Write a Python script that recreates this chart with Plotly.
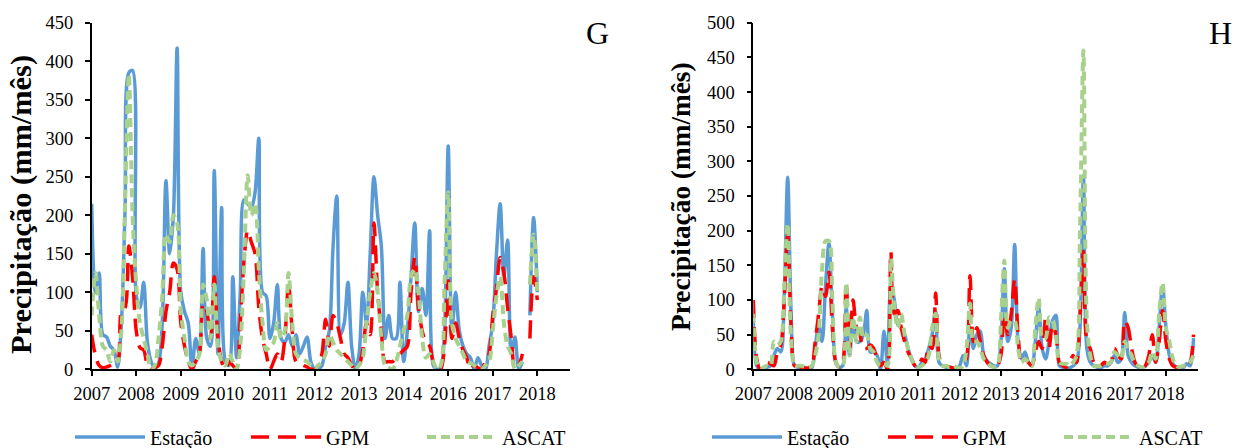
import plotly.graph_objects as go

# ---------------- data (monthly, category index along x) ----------------
tick_labels = ["2007", "2008", "2009", "2010", "2011", "2012", "2013", "2014", "2016", "2017", "2018"]
series_names = ["Estação", "GPM", "ASCAT"]

G_estacao = [215, 100, 125, 45, 42, 30, 25, 3, 60, 210,
             385, 388, 95, 80, 113, 35, 10, 2, 8, 60,
             245, 150, 200, 417, 100, 75, 60, 0, 40, 20,
             157, 40, 30, 258, 20, 210, 10, 5, 120, 15,
             100, 220, 215, 210, 230, 300, 100, 95, 40, 60,
             110, 40, 35, 45, 30, 45, 20, 30, 42, 10,
             0, 0, 5, 30, 50, 160, 225, 45, 60, 113,
             30, 0, 20, 100, 60, 150, 250, 200, 160, 40,
             70, 40, 40, 113, 10, 50, 120, 190, 75, 105,
             70, 180, 5, 0, 2, 50, 290, 50, 100, 50,
             30, 20, 15, 0, 15, 5, 0, 30, 60, 150,
             215, 120, 168, 20, 42, 0, 10, None, 70, 197,
             100]
G_gpm = [45, 18, 5, 2, 3, 5, 8, 10, 75, 80,
         160, 120, 50, 28, 25, 5, 0, 2, 5, 30,
         75, 100, 138, 130, 60, 30, 10, 0, 10, 20,
         85, 75, 40, 120, 40, 10, 0, 10, 5, 0,
         60, 140, 180, 165, 150, 80, 40, 20, 0, 10,
         20, 10, 40, 110, 50, 10, 8, 5, 3, 0,
         0, 5, 20, 65, 30, 70, 60, 40, 20, 15,
         5, 0, 5, 25, 60, 45, 190, 100, 50, 10,
         10, 10, 15, 20, 25, 30, 100, 145, 80, 50,
         35, 30, 10, 5, 0, 30, 115, 40, 60, 40,
         25, 15, 0, 5, 2, 0, 10, 20, 70, 105,
         145, 125, 80, 40, 0, 5, 20, None, 40, 120,
         90]
G_ascat = [70, 125, 70, 30, 25, 10, 25, 10, 50, 220,
           383, 200, 110, 60, 40, 20, 0, 5, 40, 95,
           175, 165, 200, 190, 75, 40, 10, 5, 10, 20,
           110, 90, 40, 110, 30, 10, 5, 20, 10, 0,
           30, 130, 252, 200, 215, 130, 60, 25, 30, 35,
           60, 40, 50, 125, 60, 20, 15, 12, 10, 5,
           0, 5, 10, 20, 45, 35, 25, 20, 15, 10,
           5, 0, 5, 15, 60, 100, 125, 100, 40, 5,
           2, 0, 10, 30, 50, 70, 120, 130, 100, 40,
           15, 20, 10, 0, 5, 110, 230, 60, 40, 30,
           20, 10, 8, 5, 2, 0, 5, 10, 50, 95,
           120, 60, 30, 20, 0, 5, 10, None, 110, 175,
           100]

H_estacao = [70, 5, 0, 2, 3, 5, 20, 30, 25, 110,
             277, 80, 5, 3, 2, 2, 0, 2, 30, 65,
             40, 120, 182, 80, 10, 3, 5, 90, 20, 70,
             40, 40, 50, 85, 25, 25, 20, 0, 55, 10,
             120, 100, 65, 60, 50, 30, 15, 5, 3, 10,
             15, 30, 50, 85, 10, 5, 3, 3, 2, 0,
             5, 20, 5, 60, 30, 50, 55, 20, 12, 8,
             5, 5, 40, 145, 40, 60, 180, 40, 15, 25,
             10, 5, 40, 90, 30, 15, 40, 70, 78, 5,
             3, 2, 2, 5, 10, 60, 280, 30, 10, 5,
             3, 2, 5, 5, 10, 20, 10, 15, 82, 20,
             10, 5, 3, 2, 5, 10, 20, 10, 60, 120,
             60, 20, 8, 3, 2, 2, 8, 5, 45]
H_gpm = [100, 15, 0, 5, 10, 8, 5, 25, 35, 100,
         195, 60, 5, 5, 3, 2, 2, 5, 40, 80,
         120, 105, 140, 60, 10, 3, 10, 125, 30, 100,
         60, 50, 30, 30, 35, 30, 15, 5, 10, 0,
         170, 80, 85, 60, 40, 25, 15, 5, 3, 15,
         10, 35, 30, 110, 20, 5, 5, 3, 2, 0,
         2, 5, 15, 135, 40, 60, 40, 20, 10, 5,
         3, 5, 20, 80, 50, 80, 130, 50, 10, 15,
         10, 5, 25, 40, 30, 75, 30, 65, 50, 10,
         5, 3, 10, 20, 10, 80, 170, 40, 30, 10,
         5, 5, 10, 8, 10, 30, 20, 15, 70, 60,
         30, 10, 3, 0, 5, 20, 50, 10, 40, 85,
         40, 15, 5, 3, 2, 3, 5, 10, 50]
H_ascat = [80, 10, 0, 3, 5, 5, 40, 35, 40, 120,
           210, 40, 5, 5, 5, 3, 3, 5, 20, 50,
           145, 185, 185, 100, 10, 3, 5, 125, 20, 75,
           40, 75, 45, 50, 30, 25, 10, 5, 8, 5,
           160, 90, 60, 80, 50, 30, 15, 5, 3, 5,
           10, 20, 60, 80, 15, 5, 5, 3, 5, 3,
           2, 5, 30, 95, 40, 40, 30, 15, 10, 5,
           3, 5, 70, 157, 60, 70, 70, 30, 10, 15,
           10, 5, 60, 103, 45, 45, 75, 70, 50, 10,
           8, 8, 5, 10, 20, 200, 460, 70, 20, 5,
           5, 5, 8, 8, 10, 25, 20, 15, 40, 30,
           20, 8, 5, 3, 5, 10, 25, 15, 80, 125,
           60, 40, 15, 5, 3, 5, 5, 10, 20]

# ---------------- styling ----------------
W, H = 1240, 448
FONT = "Liberation Serif"
styles = [
    dict(color="#5B9BD5", width=3.5, dash="solid"),
    dict(color="#FF0000", width=3.5, dash="18px,9px"),
    dict(color="#A9D18E", width=4, dash="9px,5px"),
]

def px_x(p):
    return p / W

def px_y(p):
    return 1 - p / H

fig = go.Figure()

panels = [
    ("x", "y", "legend", [G_estacao, G_gpm, G_ascat]),
    ("x2", "y2", "legend2", [H_estacao, H_gpm, H_ascat]),
]
for xa, ya, lg, data in panels:
    for name, ys, st in zip(series_names, data, styles):
        fig.add_trace(go.Scatter(
            x=list(range(len(ys))), y=ys, mode="lines", name=name,
            line=dict(color=st["color"], width=st["width"], dash=st["dash"], shape="spline", smoothing=0.9),
            xaxis=xa, yaxis=ya, legend=lg, connectgaps=False, hoverinfo="skip",
        ))

tickvals = [12 * k for k in range(len(tick_labels))]

def xaxis_cfg(left, right, rng, anchor):
    return dict(domain=[px_x(left), px_x(right)], range=[0, rng], anchor=anchor,
                tickmode="array", tickvals=tickvals, ticktext=tick_labels, tickangle=0,
                showline=True, linecolor="black", linewidth=1.5, automargin=False,
                ticks="outside", ticklen=5, tickwidth=1.5, tickcolor="black",
                showgrid=False, zeroline=False, ticklabelstandoff=2,
                tickfont=dict(family=FONT, size=18.5, color="black"))

def yaxis_cfg(rng, anchor):
    return dict(domain=[px_y(369.3), px_y(22.7)], range=[0, rng], anchor=anchor,
                dtick=50, tick0=0, automargin=False,
                showline=True, linecolor="black", linewidth=1.5,
                ticks="outside", ticklen=5, tickwidth=1.5, tickcolor="black",
                showgrid=False, zeroline=False, ticklabelstandoff=8,
                tickfont=dict(family=FONT, size=18.5, color="black"))

legend_common = dict(orientation="h", yanchor="middle", xanchor="left",
                     font=dict(family=FONT, size=20, color="black"),
                     bgcolor="rgba(0,0,0,0)", itemwidth=70,
                     entrywidth=91, entrywidthmode="pixels")

fig.update_layout(
    width=W, height=H, margin=dict(l=0, r=0, t=0, b=0, autoexpand=False),
    paper_bgcolor="white", plot_bgcolor="white", showlegend=True,
    xaxis=xaxis_cfg(91.7, 570, 128.8, "y"),
    yaxis=yaxis_cfg(450, "x"),
    xaxis2=xaxis_cfg(753.3, 1198.3, 129.4, "y2"),
    yaxis2=yaxis_cfg(500, "x2"),
    legend=dict(x=px_x(70), y=px_y(437), **legend_common),
    legend2=dict(x=px_x(707), y=px_y(437), **legend_common),
    annotations=[
        dict(text="Precipitação (mm/mês)", x=px_x(21), y=px_y(205), xref="paper", yref="paper",
             textangle=-90, showarrow=False, xanchor="center", yanchor="middle",
             font=dict(family=FONT, size=30.4, color="black", weight="bold")),
        dict(text="Precipitação (mm/mês)", x=px_x(681), y=px_y(197), xref="paper", yref="paper",
             textangle=-90, showarrow=False, xanchor="center", yanchor="middle",
             font=dict(family=FONT, size=27.3, color="black", weight="bold")),
        dict(text="G", x=px_x(597), y=px_y(33), xref="paper", yref="paper",
             showarrow=False, xanchor="center", yanchor="middle",
             font=dict(family=FONT, size=32, color="black")),
        dict(text="H", x=px_x(1220), y=px_y(33), xref="paper", yref="paper",
             showarrow=False, xanchor="center", yanchor="middle",
             font=dict(family=FONT, size=32, color="black")),
    ],
)

fig.write_html("out.html", config={"displayModeBar": False},
               post_script="document.body.style.margin='0px';document.body.style.overflow='hidden';")
